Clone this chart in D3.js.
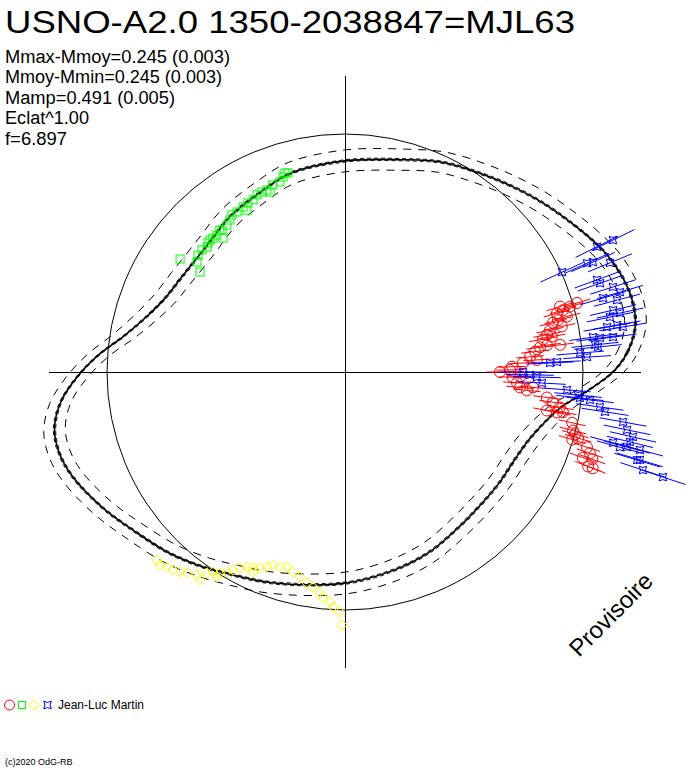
<!DOCTYPE html>
<html>
<head>
<meta charset="utf-8">
<script src="https://cdn.jsdelivr.net/npm/d3@7"></script>
<style>
  html, body { margin: 0; padding: 0; background: #fff; }
  svg { display: block; }
  text { font-family: "Liberation Sans", Arial, sans-serif; fill: #000; }
</style>
</head>
<body>
<script>
// ---------------- data ----------------
const titleText = "USNO-A2.0 1350-2038847=MJL63";
const statLines = ["Mmax-Mmoy=0.245 (0.003)", "Mmoy-Mmin=0.245 (0.003)", "Mamp=0.491 (0.005)", "Eclat^1.00", "f=6.897"];
const statWidths = [225, 217, 170, 84, 62];
const observer = "Jean-Luc Martin";
const copyright = "(c)2020 OdG-RB";
const stamp = "Provisoire";

// fitted light curve (phase, relative brightness in mag)
const fitPhase = [0.000,0.011,0.025,0.039,0.053,0.067,0.083,0.111,0.133,0.156,0.181,0.208,0.250,0.292,0.319,0.353,0.383,0.417,0.439,0.458,0.475,0.489,0.503,0.517,0.531,0.544,0.558,0.581,0.603,0.628,0.650,0.667,0.697,0.750,0.789,0.819,0.847,0.875,0.900,0.925,0.944,0.961,0.975,0.986];
const fitDm = [0.126,0.189,0.235,0.244,0.231,0.206,0.164,0.097,0.050,0.008,-0.029,-0.076,-0.113,-0.134,-0.164,-0.189,-0.214,-0.206,-0.181,-0.130,-0.055,0.038,0.126,0.202,0.244,0.248,0.227,0.168,0.109,0.059,0.013,-0.021,-0.063,-0.113,-0.143,-0.164,-0.189,-0.202,-0.202,-0.197,-0.176,-0.134,-0.076,0.008];
const fitBand = 0.046;
const fitInner = 0.005;

// session 1 (red circles)
const redPhase = [0.000,0.002,0.995,0.990,0.986,0.984,0.005,0.008,0.013,0.017,0.020,0.026,0.029,0.032,0.037,0.038,0.043,0.044,0.047,0.045,0.046,0.039,0.033,0.027,0.021,0.020,0.010,0.996,0.987,0.980,0.977,0.974,0.970,0.970,0.971,0.965,0.960,0.958,0.954,0.956,0.952,0.945,0.949,0.946,0.941,0.941];
const redDm = [-0.349,-0.307,-0.294,-0.276,-0.262,-0.232,-0.298,-0.251,-0.220,-0.197,-0.174,-0.157,-0.137,-0.121,-0.102,-0.079,-0.076,-0.048,-0.056,-0.016,0.017,-0.039,-0.069,-0.118,-0.144,-0.089,-0.192,-0.264,-0.208,-0.145,-0.117,-0.085,-0.137,-0.093,-0.069,-0.022,-0.011,0.002,-0.004,0.018,0.065,0.062,0.084,0.102,0.117,0.096];
const redErr = 0.058;

// session 2 (green squares)
const greenPhase = [0.2944,0.2990,0.3025,0.3087,0.3145,0.3189,0.3233,0.3280,0.3330,0.3381,0.3444,0.3492,0.3531,0.3578,0.3636,0.3697,0.3739,0.3675,0.3797,0.3828,0.3128,0.3367,0.3767,0.3875,0.3931,0.4044,0.4039,0.3983,0.3650,0.2967];
const greenDm = [-0.130,-0.140,-0.156,-0.158,-0.168,-0.167,-0.169,-0.180,-0.181,-0.185,-0.189,-0.187,-0.199,-0.208,-0.211,-0.212,-0.210,-0.239,-0.209,-0.218,-0.181,-0.205,-0.207,-0.210,-0.211,-0.160,-0.260,-0.225,-0.205,-0.127];

// session 3 (yellow diamonds)
const yellowPhase = [0.6250,0.6284,0.6322,0.6361,0.6403,0.6439,0.6497,0.6542,0.6572,0.6614,0.6653,0.6681,0.6717,0.6758,0.6797,0.6850,0.6894,0.6931,0.6989,0.7039,0.7094,0.7156,0.7217,0.7264,0.7319,0.7344,0.7397,0.7419,0.7467,0.7481,0.6814,0.6611,0.6531];
const yellowDm = [0.117,0.123,0.109,0.102,0.089,0.074,0.055,0.024,0.007,-0.005,-0.024,-0.044,-0.066,-0.083,-0.094,-0.103,-0.118,-0.134,-0.137,-0.145,-0.132,-0.118,-0.099,-0.087,-0.066,-0.046,-0.032,-0.011,0.009,0.063,-0.075,0.016,0.065];

// session 4 (blue stars)
const bluePhase = [0.0728,0.0734,0.0664,0.0622,0.0672,0.0686,0.0558,0.0533,0.0489,0.0450,0.0444,0.0411,0.0361,0.0336,0.0325,0.0256,0.0272,0.0270,0.0222,0.0211,0.0206,0.0172,0.0157,0.0128,0.0098,0.0075,0.0070,0.0000,0.9975,0.9958,0.9911,0.9872,0.9843,0.9825,0.9819,0.9783,0.9758,0.9717,0.9678,0.9647,0.9617,0.9589,0.9575,0.9589,0.9539,0.9494,0.9492,0.9534,0.9586];
const blueDm = [0.255,0.182,0.140,0.204,0.115,0.004,0.127,0.135,0.181,0.203,0.128,0.182,0.156,0.182,0.137,0.183,0.160,0.117,0.052,0.081,0.136,0.057,0.068,-0.009,0.019,-0.108,-0.138,-0.252,-0.223,-0.193,-0.171,-0.064,-0.016,-0.007,0.036,0.081,0.105,0.187,0.210,0.240,0.233,0.165,0.197,0.282,0.293,0.318,0.407,0.282,0.226];
const blueErr = 0.1;

const colRed = "#ff0000", colGreen = "#00ff00", colYellow = "#ffff00", colBlue = "#0000ff";

// ---------------- layout ----------------
const W = 688, H = 768;
const cx = 345, cy = 372, R0 = 238;
const ampMax = 0.245;

const svg = d3.select("body").append("svg").attr("width", W).attr("height", H);

const rScale = d3.scaleLinear().domain([-ampMax, ampMax]).range([R0 * (1 - ampMax), R0 * (1 + ampMax)]);
const aScale = d3.scaleLinear().domain([0, 1]).range([0, 2 * Math.PI]);

function px(ph, dm) { return cx + rScale(dm) * Math.cos(aScale(ph)); }
function py(ph, dm) { return cy - rScale(dm) * Math.sin(aScale(ph)); }

const plot = svg.append("g");

// axes
const axLen = rScale(ampMax);
plot.append("line").attr("x1", cx - axLen).attr("x2", cx + axLen).attr("y1", cy).attr("y2", cy)
  .attr("stroke", "#000").attr("stroke-width", 1).attr("shape-rendering", "crispEdges");
plot.append("line").attr("x1", cx).attr("x2", cx).attr("y1", cy - axLen).attr("y2", cy + axLen)
  .attr("stroke", "#000").attr("stroke-width", 1).attr("shape-rendering", "crispEdges");

// mean circle
plot.append("circle").attr("cx", cx).attr("cy", cy).attr("r", rScale(0))
  .attr("fill", "none").attr("stroke", "#000").attr("stroke-width", 1);

// fitted curve
const fit = d3.zip(fitPhase, fitDm);
const radial = off => d3.lineRadial()
  .angle(d => Math.PI / 2 - aScale(d[0]))
  .radius(d => rScale(d[1] + off))
  .curve(d3.curveCatmullRomClosed.alpha(0.5));
const curveG = plot.append("g").attr("transform", `translate(${cx},${cy})`);
[fitBand, -fitBand].forEach(off => {
  curveG.append("path").attr("d", radial(off)(fit)).attr("fill", "none")
    .attr("stroke", "#000").attr("stroke-width", 1).attr("stroke-dasharray", "8,7");
});
[fitInner, -fitInner].forEach(off => {
  curveG.append("path").attr("d", radial(off)(fit)).attr("fill", "none")
    .attr("stroke", "#000").attr("stroke-width", 0.9).attr("stroke-dasharray", "4,3");
});
curveG.append("path").attr("d", radial(0)(fit)).attr("fill", "none")
  .attr("stroke", "#000").attr("stroke-width", 1.6);

// error bars (radial)
function errBars(ph, dm, err, col) {
  plot.append("g").selectAll("line").data(d3.zip(ph, dm)).join("line")
    .attr("x1", d => px(d[0], d[1] - err)).attr("y1", d => py(d[0], d[1] - err))
    .attr("x2", d => px(d[0], d[1] + err)).attr("y2", d => py(d[0], d[1] + err))
    .attr("stroke", col).attr("stroke-width", 1);
}

const starPath = s => `M${-s},${-s}Q0,${-s/3} ${s},${-s}Q${s/3},0 ${s},${s}Q0,${s/3} ${-s},${s}Q${-s/3},0 ${-s},${-s}Z`;
const diamondPath = s => `M0,${-s}L${s},0L0,${s}L${-s},0Z`;

errBars(redPhase, redDm, redErr, colRed);
plot.append("g").selectAll("circle").data(d3.zip(redPhase, redDm)).join("circle")
  .attr("cx", d => px(d[0], d[1])).attr("cy", d => py(d[0], d[1])).attr("r", 5.5)
  .attr("fill", "none").attr("stroke", colRed).attr("stroke-width", 1);

plot.append("g").selectAll("rect").data(d3.zip(greenPhase, greenDm)).join("rect")
  .attr("x", d => px(d[0], d[1]) - 4).attr("y", d => py(d[0], d[1]) - 4)
  .attr("width", 8).attr("height", 8)
  .attr("fill", "none").attr("stroke", colGreen).attr("stroke-width", 1);

plot.append("g").selectAll("path").data(d3.zip(yellowPhase, yellowDm)).join("path")
  .attr("transform", d => `translate(${px(d[0], d[1])},${py(d[0], d[1])})`)
  .attr("d", diamondPath(5))
  .attr("fill", "none").attr("stroke", colYellow).attr("stroke-width", 1);

errBars(bluePhase, blueDm, blueErr, colBlue);
plot.append("g").selectAll("path").data(d3.zip(bluePhase, blueDm)).join("path")
  .attr("transform", d => `translate(${px(d[0], d[1])},${py(d[0], d[1])})`)
  .attr("d", starPath(3.8))
  .attr("fill", "none").attr("stroke", colBlue).attr("stroke-width", 1);

// ---------------- texts ----------------
svg.append("text").attr("x", 5).attr("y", 33).attr("font-size", 32)
  .attr("textLength", 570).attr("lengthAdjust", "spacingAndGlyphs").text(titleText);

svg.append("g").selectAll("text").data(statLines).join("text")
  .attr("x", 5).attr("y", (d, i) => 63 + i * 20.4).attr("font-size", 18)
  .attr("textLength", (d, i) => statWidths[i]).attr("lengthAdjust", "spacingAndGlyphs")
  .text(d => d);

// legend
const lg = svg.append("g");
lg.append("circle").attr("cx", 9.5).attr("cy", 705).attr("r", 5).attr("fill", "none").attr("stroke", colRed);
lg.append("rect").attr("x", 18.5).attr("y", 701.5).attr("width", 7).attr("height", 7).attr("fill", "none").attr("stroke", colGreen);
lg.append("path").attr("transform", "translate(34,705)").attr("d", diamondPath(5)).attr("fill", "none").attr("stroke", colYellow);
lg.append("path").attr("transform", "translate(47.5,705)").attr("d", starPath(3.8)).attr("fill", "none").attr("stroke", colBlue);
lg.append("text").attr("x", 58).attr("y", 709).attr("font-size", 12).text(observer);

svg.append("text").attr("x", 5).attr("y", 765).attr("font-size", 9).text(copyright);

svg.append("text").attr("transform", "translate(579,658) rotate(-45)")
  .attr("font-size", 24).text(stamp);
</script>
</body>
</html>
